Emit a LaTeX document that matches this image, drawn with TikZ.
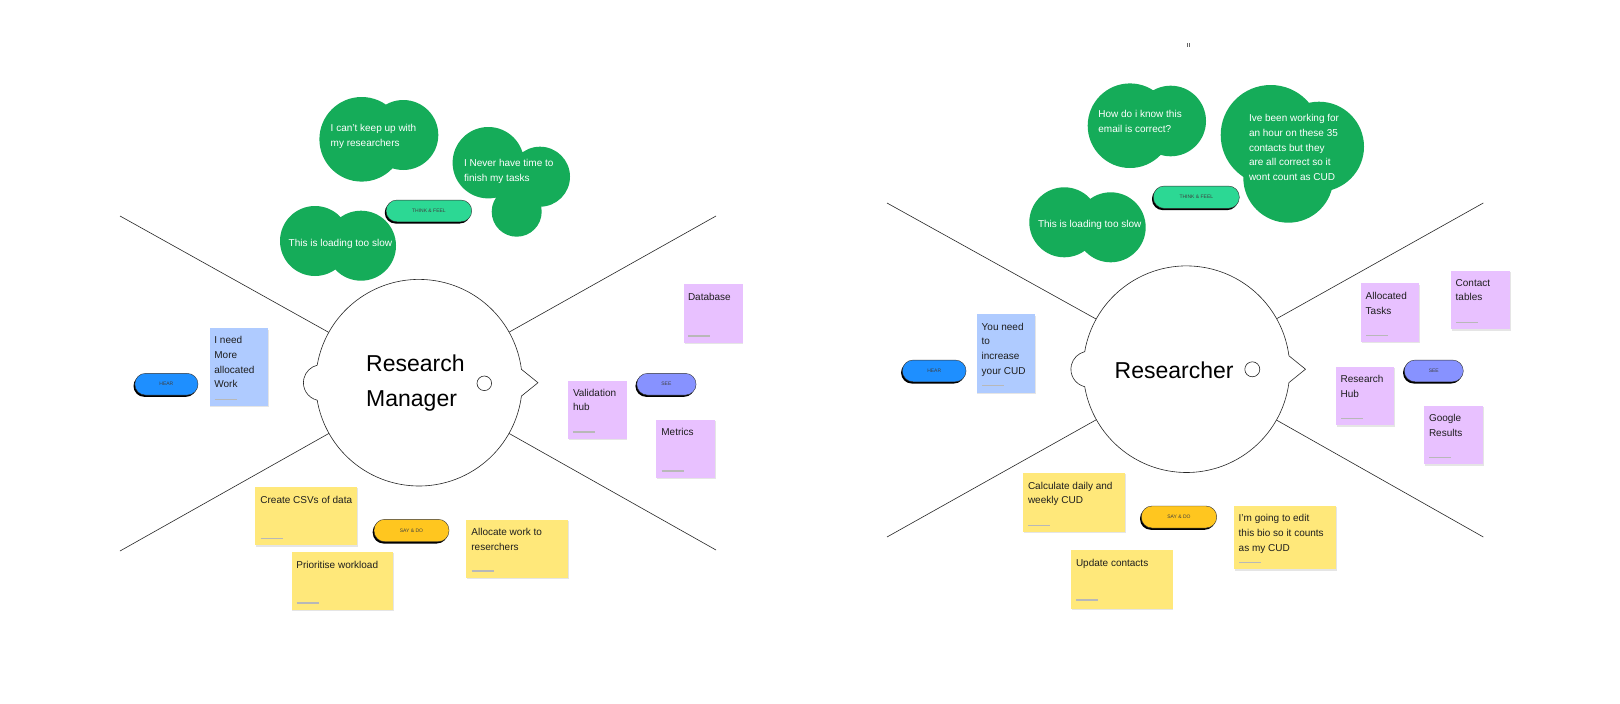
\documentclass[tikz,border=0pt]{standalone}
\usepackage{fontspec}
\setmainfont{Liberation Sans}
\usetikzlibrary{shadows}
\definecolor{bubgreen}{HTML}{15AC59}
\definecolor{tfgreen}{HTML}{2CD894}
\definecolor{hearblue}{HTML}{1E8FFF}
\definecolor{seeblue}{HTML}{8792FF}
\definecolor{saygold}{HTML}{FFC61F}
\definecolor{stkY}{HTML}{FFE87A}
\definecolor{stkL}{HTML}{E8C1FF}
\definecolor{stkB}{HTML}{AFCBFF}
\definecolor{inkc}{HTML}{1E1E1E}
\newcommand{\stickynote}[5]{\fill[black!10] (#2+0.6,#3+1.3) rectangle (#4+0.6,#5+1.3); \fill[#1] (#2,#3) rectangle (#4,#5);}
\newcommand{\footmark}[2]{\draw[footer] (#1,#2) -- ++(22,0);}
\begin{document}
\begin{tikzpicture}[x=1pt,y=-1pt,
  divline/.style={draw=black!85, line width=0.6pt},
  headline/.style={draw=black!85, line width=0.6pt, fill=white},
  bubble/.style={fill=bubgreen},
  btext/.style={text=white, font=\fontsize{10}{14.7}\selectfont, align=left, inner sep=0pt, anchor=north west, execute at begin node={\rule{0pt}{7.5pt}}},
  stext/.style={text=inkc, font=\fontsize{10}{14.7}\selectfont, align=left, inner sep=0pt, anchor=north west, execute at begin node={\rule{0pt}{7.5pt}}},
  htext/.style={text=black, font=\fontsize{23}{35}\selectfont, align=left, inner sep=0pt, anchor=north west, execute at begin node={\rule{0pt}{16.5pt}}},
  footer/.style={draw=black!28, line width=1.3pt},
  pill/.style={rounded corners=10.8pt, minimum height=21.7pt, inner sep=0pt, draw=black!80, line width=0.4pt, font=\fontsize{5}{6}\selectfont, text=black!75, drop shadow={shadow xshift=-1.3pt, shadow yshift=-1.8pt, opacity=1, fill=black}}
]
\useasboundingbox (0,0) rectangle (1620,704);
\fill[white] (0,0) rectangle (1620,704);

% ---------- LEFT: Research Manager ----------
\coordinate (hL) at (419,382.7);
\coordinate (ulL) at (120,216);
\coordinate (llL) at (120,551);
\coordinate (urL) at (716,216);
\coordinate (lrL) at (716,550);
\draw[divline] (ulL) -- (hL);
\draw[divline] (llL) -- (hL);
\draw[divline] (urL) -- (hL);
\draw[divline] (lrL) -- (hL);
\begin{scope}[shift={(419,382.7)}]
\draw[headline] (189.75:103.3) arc[start angle=189.75, end angle=352.55, radius=103.3] -- (119,0) -- (7.45:103.3) arc[start angle=7.45, end angle=170.25, radius=103.3] arc[start angle=103.5, end angle=256.5, radius=18] -- cycle;
\end{scope}
\draw[headline] (484.3,383.3) circle[radius=7.3];
\node[htext] (titleL) at (366,355) {Research\\Manager};

% bubbles
\fill[bubble] (361.7,139.3) circle[radius=42.3] (403.3,135) circle[radius=35];
\fill[bubble] (488.3,162.7) circle[radius=35.7] (540,176.7) circle[radius=30] (516.7,211.7) circle[radius=25];
\fill[bubble] (315,241) circle[radius=35] (361,245.7) circle[radius=35];
\node[btext] (b1) at (330.5,124) {I can't keep up with\\my researchers};
\node[btext] (b2) at (463.8,159.3) {I Never have time to\\finish my tasks};
\node[btext] (b3) at (288.5,238.3) {This is loading too slow};

% pills
\node[pill, fill=tfgreen, minimum width=85.7pt] (tfL) at (428.9,210.9) {THINK \& FEEL};
\node[pill, fill=hearblue, minimum width=63.2pt] (hearL) at (166.4,384.2) {HEAR};
\node[pill, fill=seeblue, minimum width=59.3pt] (seeL) at (666.4,384.2) {SEE};
\node[pill, fill=saygold, minimum width=75pt, minimum height=22.4pt] (sayL) at (411.5,530.5) {SAY \& DO};

% stickies
\stickynote{stkB}{209.5}{328.3}{268}{406}
\stickynote{stkL}{684.3}{284.3}{742.7}{342.7}
\stickynote{stkL}{568.3}{380.7}{626.7}{439}
\stickynote{stkL}{656.3}{419.7}{715}{478}
\stickynote{stkY}{255}{486.7}{357.3}{545.3}
\stickynote{stkY}{291.7}{551.7}{393.3}{610}
\stickynote{stkY}{466}{520}{568.3}{578}
\node[stext] (s1) at (214.2,336.3) {I need\\More\\allocated\\Work};
\node[stext] (s2) at (687.8,292.7) {Database};
\node[stext] (s3) at (572.8,388.7) {Validation\\hub};
\node[stext] (s4) at (661.2,427.7) {Metrics};
\node[stext] (s5) at (260.2,495.3) {Create CSVs of data};
\node[stext] (s6) at (296.2,560.3) {Prioritise workload};
\node[stext] (s7) at (471.2,528) {Allocate work to\\reserchers};
\footmark{214.7}{399.3}
\footmark{688.3}{336}
\footmark{573.3}{432}
\footmark{661.7}{471}
\footmark{260.7}{538.7}
\footmark{296.7}{603}
\footmark{471.7}{571}

% ---------- RIGHT: Researcher ----------
\coordinate (hR) at (1186.5,369.2);
\coordinate (ulR) at (887,203);
\coordinate (llR) at (887,537);
\coordinate (urR) at (1483.3,203);
\coordinate (lrR) at (1483.3,537);
\draw[divline] (ulR) -- (hR);
\draw[divline] (llR) -- (hR);
\draw[divline] (urR) -- (hR);
\draw[divline] (lrR) -- (hR);
\begin{scope}[shift={(1186.5,369.2)}]
\draw[headline] (189.75:103.3) arc[start angle=189.75, end angle=352.55, radius=103.3] -- (119,0) -- (7.45:103.3) arc[start angle=7.45, end angle=170.25, radius=103.3] arc[start angle=103.5, end angle=256.5, radius=18] -- cycle;
\end{scope}
\draw[headline] (1252.3,369.3) circle[radius=7.5];
\node[htext] (titleR) at (1114.5,361.2) {Researcher};

\draw[black!60, line width=0.5pt] (1187,43) -- (1187,47) (1189.5,43) -- (1189.5,47);

\fill[bubble] (1130,125.7) circle[radius=42.3] (1170.7,121) circle[radius=35.3];
\fill[bubble] (1270.7,135) circle[radius=50] (1319,146.7) circle[radius=45] (1288.3,177.7) circle[radius=45];
\fill[bubble] (1064.3,222.3) circle[radius=35] (1110.7,227.3) circle[radius=35];
\node[btext] (b4) at (1098.2,110) {How do i know this\\email is correct?};
\node[btext] (b5) at (1248.8,114.3) {Ive been working for\\an hour on these 35\\contacts but they\\are all correct so it\\wont count as CUD};
\node[btext] (b6) at (1037.8,219.7) {This is loading too slow};

\node[pill, fill=tfgreen, minimum width=86pt, minimum height=22.3pt] (tfR) at (1196.3,197.2) {THINK \& FEEL};
\node[pill, fill=hearblue, minimum width=63.7pt] (hearR) at (934.2,370.9) {HEAR};
\node[pill, fill=seeblue, minimum width=59pt] (seeR) at (1433.8,370.9) {SEE};
\node[pill, fill=saygold, minimum width=75.4pt, minimum height=22pt] (sayR) at (1179,517) {SAY \& DO};

\stickynote{stkB}{976.7}{314.3}{1035.3}{392.7}
\stickynote{stkL}{1361}{283.3}{1419.3}{341.7}
\stickynote{stkL}{1451}{271}{1510}{329.3}
\stickynote{stkL}{1336}{367}{1394.3}{425.3}
\stickynote{stkL}{1424.3}{406}{1483}{464.3}
\stickynote{stkY}{1023}{473}{1125}{532}
\stickynote{stkY}{1234}{506}{1336.3}{569.3}
\stickynote{stkY}{1071.3}{550}{1172.7}{608.6}
\node[stext] (s8) at (981.5,322.7) {You need\\to\\increase\\your CUD};
\node[stext] (s9) at (1365.5,292) {Allocated\\Tasks};
\node[stext] (s10) at (1455.5,279) {Contact\\tables};
\node[stext] (s11) at (1340.5,375) {Research\\Hub};
\node[stext] (s12) at (1428.8,414.3) {Google\\Results};
\node[stext] (s13) at (1027.8,481.7) {Calculate daily and\\weekly CUD};
\node[stext] (s14) at (1238.5,514.3) {I'm going to edit\\this bio so it counts\\as my CUD};
\node[stext] (s15) at (1075.8,558.3) {Update contacts};
\footmark{982}{385.7}
\footmark{1366}{335.3}
\footmark{1456}{322.3}
\footmark{1341}{418.7}
\footmark{1429.3}{457.7}
\footmark{1028.3}{525.3}
\footmark{1239}{562.7}
\footmark{1076.3}{600}
\end{tikzpicture}
\end{document}
